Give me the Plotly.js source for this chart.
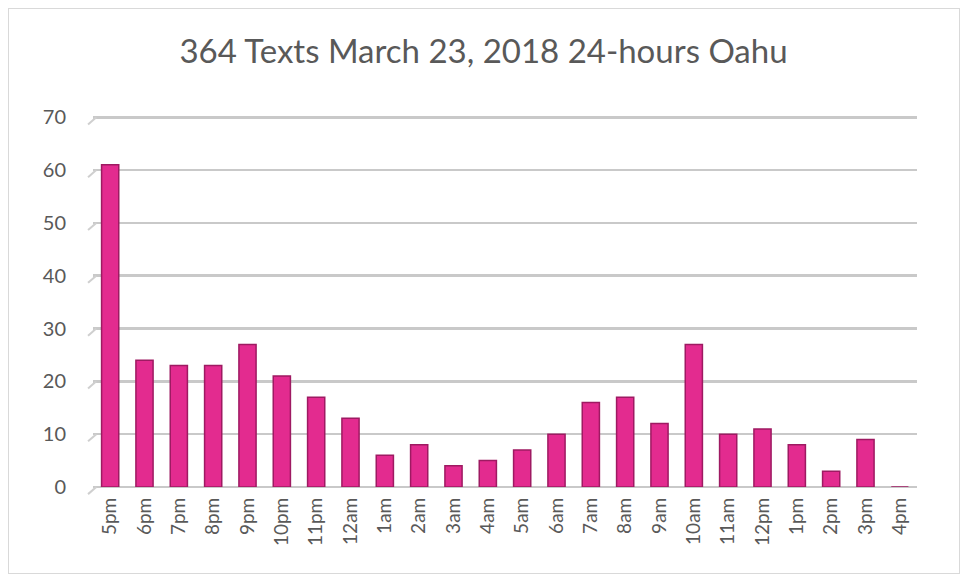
<!DOCTYPE html>
<html>
<head>
<meta charset="utf-8">
<script src="https://cdn.plot.ly/plotly-3.0.1.min.js"></script>
<style>
html,body{margin:0;padding:0;background:#fff;}
#frame{position:absolute;left:8px;top:8px;width:952px;height:566px;border:1px solid #d9d9d9;box-sizing:border-box;}
#chart{position:absolute;left:0;top:0;width:967px;height:581px;}
</style>
</head>
<body>
<div id="frame"></div>
<div id="chart"></div>
<script>
const hours = ["5pm","6pm","7pm","8pm","9pm","10pm","11pm","12am","1am","2am","3am","4am","5am","6am","7am","8am","9am","10am","11am","12pm","1pm","2pm","3pm","4pm"];
const texts = [61,24,23,23,27,21,17,13,6,8,4,5,7,10,16,17,12,27,10,11,8,3,9,0];
const titleText = "364 Texts March 23, 2018 24-hours Oahu";
const yTicks = [0,10,20,30,40,50,60,70];
const yMax = 71;

const trace = {
  type: "bar",
  x: hours,
  y: texts,
  width: 0.5,
  marker: {color: "#E32B8F", line: {color: "#9E1A62", width: 1.5}},
  hoverinfo: "x+y"
};

// decorative diagonal stubs at left of each gridline (3D floor look)
const stubs = yTicks.map(v => ({
  type: "line", xref: "paper", yref: "paper",
  x0: -0.006, x1: 0.004,
  y0: v / yMax - 0.019, y1: v / yMax,
  line: {color: "#cfcfcf", width: 2}
}));

const layout = {
  width: 967, height: 581,
  paper_bgcolor: "rgba(0,0,0,0)",
  plot_bgcolor: "rgba(0,0,0,0)",
  margin: {l: 93, r: 50, t: 112, b: 94},
  font: {family: "Lato, 'Open Sans', sans-serif", color: "#595959"},
  title: {text: titleText, x: 0.5, xanchor: "center", y: 0.912, yanchor: "middle",
          font: {size: 33, color: "#595959", family: "Lato, 'Open Sans', sans-serif"}},
  showlegend: false,
  shapes: stubs,
  xaxis: {
    type: "category",
    tickangle: -90,
    tickfont: {size: 19, color: "#595959"},
    showgrid: false,
    zeroline: false,
    showline: false,
    ticks: "",
    ticklabelstandoff: 6
  },
  yaxis: {
    range: [0, yMax],
    tickvals: yTicks,
    tickfont: {size: 20, color: "#595959"},
    showgrid: true,
    gridcolor: "#c9c9c9",
    gridwidth: 2.5,
    zeroline: true,
    zerolinecolor: "#c9c9c9",
    zerolinewidth: 2.5,
    showline: false,
    ticks: "",
    ticklabelstandoff: 26
  }
};

Plotly.newPlot("chart", [trace], layout, {displayModeBar: false, staticPlot: true});
</script>
</body>
</html>
